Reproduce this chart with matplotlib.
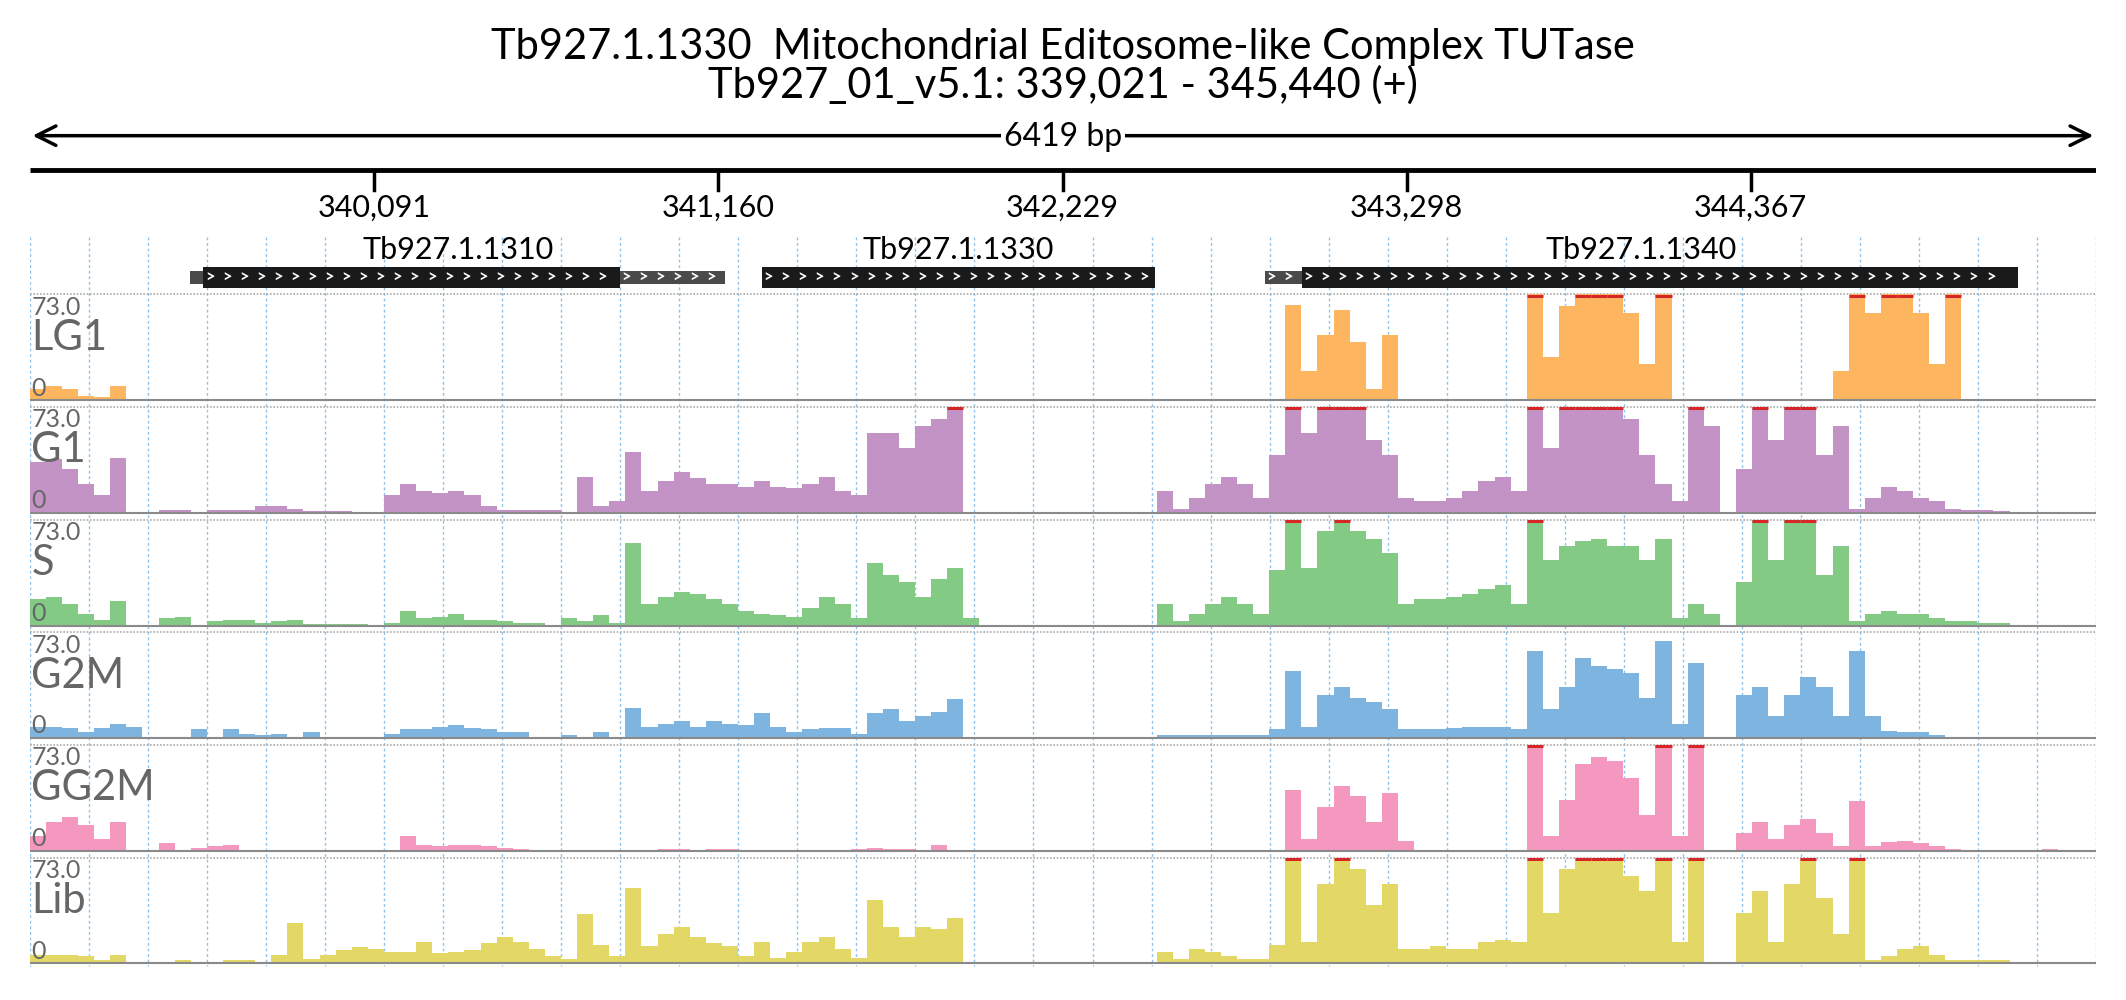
import matplotlib
matplotlib.use("Agg")
import matplotlib.pyplot as plt
import numpy as np

plt.rcParams['font.family'] = ['Lato', 'DejaVu Sans']

TITLE1 = "Tb927.1.1330  Mitochondrial Editosome-like Complex TUTase"
TITLE2 = "Tb927_01_v5.1: 339,021 - 345,440 (+)"
START, END = 339021, 345440
SPAN_LABEL = "6419 bp"
TICKS = [340091, 341160, 342229, 343298, 344367]
TICK_LABELS = ["340,091", "341,160", "342,229", "343,298", "344,367"]
YMAX = 73.0
BIN = 50
NBINS = 128

gene_names = ["Tb927.1.1310", "Tb927.1.1330", "Tb927.1.1340"]
gene_utr5 = [(339518, 339560), None, (342858, 342972)]
gene_cds = [(339560, 340853), (341295, 342517), (342972, 345196)]
gene_utr3 = [(340853, 341182), None, None]

track_names = ["LG1", "G1", "S", "G2M", "GG2M", "Lib"]
track_colors = ["#FDB55F", "#C393C6", "#83CB85", "#7DB5E0", "#F598C0", "#E3D865"]

LG1 = {0: 8, 1: 10, 2: 8, 3: 3, 4: 2, 5: 10, 78: 66, 79: 20, 80: 45, 81: 62, 82: 40, 83: 8, 84: 45,
       93: 73, 94: 30, 95: 65, 96: 73, 97: 73, 98: 73, 99: 60, 100: 25, 101: 73,
       112: 20, 113: 73, 114: 60, 115: 73, 116: 73, 117: 60, 118: 25, 119: 73}
G1 = {0: 35, 1: 37, 2: 30, 3: 20, 4: 12, 5: 38, 8: 2, 9: 2, 11: 2, 12: 2, 13: 2, 14: 5, 15: 5, 16: 3,
      17: 1, 18: 1, 19: 1, 22: 12, 23: 20, 24: 15, 25: 14, 26: 15, 27: 12, 28: 5, 29: 2, 30: 2, 31: 2,
      32: 2, 34: 25, 35: 5, 36: 8, 37: 42, 38: 15, 39: 22, 40: 28, 41: 24, 42: 20, 43: 20, 44: 18,
      45: 22, 46: 18, 47: 17, 48: 20, 49: 25, 50: 15, 51: 12, 52: 55, 53: 55, 54: 45, 55: 60, 56: 65,
      57: 73, 70: 15, 71: 3, 72: 10, 73: 20, 74: 25, 75: 20, 76: 10, 77: 40, 78: 73, 79: 55, 80: 73,
      81: 73, 82: 73, 83: 50, 84: 40, 85: 10, 86: 8, 87: 8, 88: 10, 89: 15, 90: 22, 91: 25, 92: 15,
      93: 73, 94: 45, 95: 73, 96: 73, 97: 73, 98: 73, 99: 65, 100: 40, 101: 20, 102: 8, 103: 73,
      104: 60, 106: 30, 107: 73, 108: 50, 109: 73, 110: 73, 111: 40, 112: 60, 113: 3, 114: 10,
      115: 18, 116: 15, 117: 10, 118: 8, 119: 3, 120: 2, 121: 2, 122: 1}
S = {0: 18, 1: 20, 2: 15, 3: 8, 4: 4, 5: 17, 8: 5, 9: 6, 11: 3, 12: 4, 13: 4, 14: 2, 15: 3, 16: 4,
     17: 1, 18: 1, 19: 1, 20: 1, 22: 2, 23: 10, 24: 5, 25: 6, 26: 8, 27: 4, 28: 4, 29: 3, 30: 2,
     31: 2, 33: 5, 34: 3, 35: 7, 36: 2, 37: 57, 38: 15, 39: 20, 40: 23, 41: 22, 42: 18, 43: 15,
     44: 10, 45: 8, 46: 7, 47: 6, 48: 12, 49: 20, 50: 15, 51: 5, 52: 43, 53: 35, 54: 30, 55: 20,
     56: 32, 57: 40, 58: 5, 70: 15, 71: 3, 72: 8, 73: 15, 74: 20, 75: 15, 76: 8, 77: 38, 78: 73,
     79: 40, 80: 65, 81: 73, 82: 65, 83: 60, 84: 50, 85: 15, 86: 18, 87: 18, 88: 20, 89: 22, 90: 25,
     91: 28, 92: 15, 93: 73, 94: 45, 95: 55, 96: 58, 97: 60, 98: 55, 99: 55, 100: 45, 101: 60,
     102: 5, 103: 15, 104: 8, 106: 30, 107: 73, 108: 45, 109: 73, 110: 73, 111: 35, 112: 55,
     113: 3, 114: 8, 115: 10, 116: 8, 117: 8, 118: 5, 119: 3, 120: 3, 121: 2, 122: 2}
G2M = {0: 8, 1: 8, 2: 7, 3: 4, 4: 7, 5: 10, 6: 8, 7: 1, 8: 1, 9: 1, 10: 6, 12: 6, 13: 3, 14: 2,
       15: 3, 17: 4, 19: 1, 20: 1, 21: 1, 22: 3, 23: 6, 24: 6, 25: 8, 26: 9, 27: 7, 28: 6, 29: 4,
       30: 4, 31: 1, 32: 1, 33: 2, 34: 1, 35: 4, 36: 1, 37: 21, 38: 8, 39: 10, 40: 12, 41: 8, 42: 12,
       43: 10, 44: 9, 45: 17, 46: 8, 47: 4, 48: 6, 49: 7, 50: 7, 51: 3, 52: 17, 53: 20, 54: 12,
       55: 15, 56: 18, 57: 27, 70: 2, 71: 2, 72: 2, 73: 2, 74: 2, 75: 2, 76: 2, 77: 6, 78: 46, 79: 8,
       80: 30, 81: 35, 82: 28, 83: 25, 84: 20, 85: 6, 86: 6, 87: 6, 88: 7, 89: 8, 90: 8, 91: 8,
       92: 6, 93: 60, 94: 20, 95: 35, 96: 55, 97: 50, 98: 48, 99: 45, 100: 28, 101: 67, 102: 10,
       103: 52, 106: 30, 107: 35, 108: 15, 109: 30, 110: 42, 111: 35, 112: 15, 113: 60, 114: 15,
       115: 5, 116: 4, 117: 4, 118: 2, 119: 1}
GG2M = {0: 10, 1: 20, 2: 23, 3: 18, 4: 8, 5: 20, 8: 5, 10: 2, 11: 3, 12: 4, 23: 10, 24: 4, 25: 3,
        26: 4, 27: 4, 28: 3, 29: 2, 30: 1, 39: 1, 40: 1, 42: 1, 43: 1, 51: 1, 52: 2, 53: 1, 54: 1,
        56: 4, 78: 42, 79: 8, 80: 30, 81: 45, 82: 38, 83: 20, 84: 40, 85: 7, 93: 73, 94: 10, 95: 35,
        96: 60, 97: 65, 98: 62, 99: 50, 100: 25, 101: 73, 102: 10, 103: 73, 106: 12, 107: 20,
        108: 8, 109: 18, 110: 22, 111: 12, 112: 3, 113: 34, 114: 3, 115: 6, 116: 7, 117: 5,
        118: 3, 119: 1, 125: 1}
LIB = {0: 6, 1: 6, 2: 6, 3: 5, 4: 2, 5: 6, 6: 1, 9: 2, 12: 2, 13: 2, 15: 6, 16: 28, 17: 3, 18: 6,
       19: 9, 20: 11, 21: 10, 22: 8, 23: 8, 24: 15, 25: 7, 26: 8, 27: 9, 28: 14, 29: 18, 30: 15,
       31: 10, 32: 5, 33: 3, 34: 34, 35: 13, 36: 5, 37: 52, 38: 12, 39: 20, 40: 25, 41: 18, 42: 14,
       43: 12, 44: 5, 45: 15, 46: 4, 47: 8, 48: 15, 49: 18, 50: 10, 51: 4, 52: 44, 53: 25, 54: 18,
       55: 25, 56: 24, 57: 31, 70: 8, 71: 3, 72: 10, 73: 8, 74: 5, 75: 3, 76: 3, 77: 13, 78: 73,
       79: 15, 80: 55, 81: 73, 82: 65, 83: 40, 84: 55, 85: 10, 86: 10, 87: 12, 88: 10, 89: 10,
       90: 15, 91: 16, 92: 15, 93: 73, 94: 35, 95: 65, 96: 73, 97: 73, 98: 73, 99: 60, 100: 50,
       101: 73, 102: 15, 103: 73, 106: 35, 107: 50, 108: 15, 109: 55, 110: 73, 111: 45, 112: 20,
       113: 73, 114: 2, 115: 5, 116: 10, 117: 12, 118: 6, 119: 2, 120: 2, 121: 2, 122: 2, 123: 1,
       125: 1}
track_data = [LG1, G1, S, G2M, GG2M, LIB]

# ---- layout (in units of a 1568x737 canvas) ----
W, H = 1568.0, 737.0
fig = plt.figure(figsize=(21.26, 10.0), dpi=100)
ax = fig.add_axes([22 / W, 0, 1524 / W, 1])
ax.set_xlim(START, END)
ax.set_ylim(H, 0)
ax.axis('off')

fig.text(0.5, 1 - 35 / H, TITLE1, ha='center', va='center', fontsize=30)
fig.text(0.5, 1 - 63 / H, TITLE2, ha='center', va='center', fontsize=30)

# span arrow
ax.annotate('', xy=(START, 100), xytext=(END, 100),
            arrowprops=dict(arrowstyle='<->', lw=2.5, color='black', mutation_scale=35),
            annotation_clip=False)
ax.text((START + END) / 2, 101, SPAN_LABEL, ha='center', va='center', fontsize=23,
        bbox=dict(facecolor='white', edgecolor='none', pad=2))

# scale line
ax.plot([START, END], [125, 125], color='black', lw=3.5, solid_capstyle='butt')
for t, lab in zip(TICKS, TICK_LABELS):
    ax.plot([t, t], [125, 140], color='black', lw=2.5)
    ax.text(t, 153, lab, ha='center', va='center', fontsize=22)

# grid lines
step = (END - START) / 35
for k in range(36):
    gx = START + k * step
    ax.plot([gx, gx], [175, 712], color='#8ec2ea', lw=1, ls=(0, (2, 2)), zorder=0)

# genes
for name, u5, cds, u3 in zip(gene_names, gene_utr5, gene_cds, gene_utr3):
    lo = u5[0] if u5 else cds[0]
    hi = u3[1] if u3 else cds[1]
    ax.text((lo + hi) / 2, 184, name, ha='center', va='center', fontsize=22)
    for seg, h, col in [(u5, 9, '#4a4a4a'), (u3, 9, '#4a4a4a'), (cds, 15, '#1a1a1a')]:
        if seg is None:
            continue
        ax.add_patch(plt.Rectangle((seg[0], 204.5 - h / 2), seg[1] - seg[0], h,
                                   facecolor=col, edgecolor='none', zorder=3))
        n = int((seg[1] - seg[0]) / 53)
        for j in range(n):
            cx = seg[0] + 20 + j * 53
            if cx < seg[1] - 10:
                ax.text(cx, 204.5, '>', color='white', ha='center', va='center',
                        fontsize=12, fontweight='bold', zorder=4)

# tracks
bases = [295, 378, 461, 544, 627, 710]
TH = 78.0
xs = START + BIN * np.arange(NBINS)
widths = np.minimum(BIN, END - xs)
for name, col, data, base in zip(track_names, track_colors, track_data, bases):
    vals = np.array([data.get(i, 0) for i in range(NBINS)], dtype=float)
    top = base - TH
    ax.plot([START, END], [top, top], color='#aaaaaa', lw=1.2, ls=(0, (1, 1)), zorder=1)
    ax.plot([START, END], [base, base], color='#8a8a8a', lw=1.5, zorder=3)
    ax.bar(xs, -vals / YMAX * TH, width=widths, bottom=base, align='edge',
           color=col, edgecolor='none', zorder=2)
    clip = vals >= YMAX
    for x0, w in zip(xs[clip], widths[clip]):
        ax.plot([x0, x0 + w], [top + 1, top + 1], color='#d62728', lw=2.2, zorder=4,
                solid_capstyle='butt')
    ax.text(START + 5, top + 1, f"{YMAX:.1f}", ha='left', va='top', fontsize=18, color='#666666')
    ax.text(START + 5, top + 32, name, ha='left', va='center', fontsize=30, color='#666666')
    ax.text(START + 5, base - 9, "0", ha='left', va='center', fontsize=18, color='#666666')

fig.savefig("out.png", dpi=100, facecolor='white')
